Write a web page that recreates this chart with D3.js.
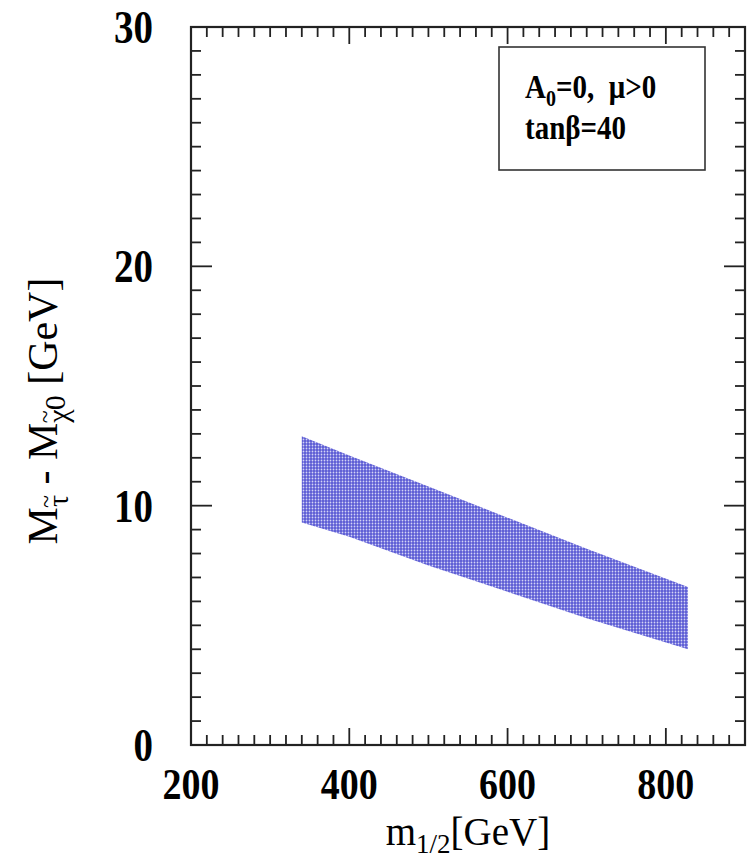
<!DOCTYPE html>
<html>
<head>
<meta charset="utf-8">
<script src="https://d3js.org/d3.v7.min.js"></script>
<style>
  body { margin: 0; background: #fff; }
  svg text { font-family: "Liberation Serif", "Times New Roman", serif; }
</style>
</head>
<body>
<div id="chart"></div>
<script>
// band data: m_1/2 [GeV] vs upper / lower mass difference [GeV]
const bandM = [340, 400, 500, 600, 700, 828]
const bandUpper = [12.9, 12.1, 10.8, 9.5, 8.2, 6.6]
const bandLower = [9.3, 8.7, 7.5, 6.4, 5.3, 4.0]

const xTicks = [200, 400, 600, 800]
const yTicks = [0, 10, 20, 30]

const MARGIN = { TOP: 27, BOTTOM: 114, LEFT: 191, RIGHT: 8 }
const W = 753, H = 859
const WIDTH = W - MARGIN.LEFT - MARGIN.RIGHT
const HEIGHT = H - MARGIN.TOP - MARGIN.BOTTOM

const svg = d3.select("#chart").append("svg")
    .attr("width", W)
    .attr("height", H)

// mesh texture for the band
const pat = svg.append("defs").append("pattern")
    .attr("id", "mesh")
    .attr("patternUnits", "userSpaceOnUse")
    .attr("width", 3).attr("height", 3)
pat.append("rect").attr("width", 3).attr("height", 3).attr("fill", "#5a5ad4")
pat.append("circle").attr("cx", 1.5).attr("cy", 1.5).attr("r", 0.9).attr("fill", "#d4d4f6")

const g = svg.append("g")
    .attr("transform", `translate(${MARGIN.LEFT},${MARGIN.TOP})`)

const x = d3.scaleLinear().domain([200, 900]).range([0, WIDTH])
const y = d3.scaleLinear().domain([0, 30]).range([HEIGHT, 0])

// band
const area = d3.area()
    .x((d, i) => x(bandM[i]))
    .y0((d, i) => y(bandLower[i]))
    .y1((d, i) => y(bandUpper[i]))
g.append("path")
    .datum(bandM)
    .attr("d", area)
    .attr("fill", "url(#mesh)")

// ticks (inward, on all four sides)
const xMinor = d3.range(200, 901, 20)
const yMinor = d3.range(0, 30.1, 1)
const tickCol = "#222"

function tickSet(vals, isMajor, scale, horiz) {
    vals.forEach(v => {
        const maj = isMajor(v)
        const len = maj ? (horiz ? 17 : 21) : 10
        if (horiz) {
            const px = scale(v)
            g.append("line").attr("x1", px).attr("x2", px).attr("y1", HEIGHT).attr("y2", HEIGHT - len)
                .attr("stroke", tickCol).attr("stroke-width", 1.8)
            g.append("line").attr("x1", px).attr("x2", px).attr("y1", 0).attr("y2", len)
                .attr("stroke", tickCol).attr("stroke-width", 1.8)
        } else {
            const py = scale(v)
            g.append("line").attr("x1", 0).attr("x2", len).attr("y1", py).attr("y2", py)
                .attr("stroke", tickCol).attr("stroke-width", 1.8)
            g.append("line").attr("x1", WIDTH).attr("x2", WIDTH - len).attr("y1", py).attr("y2", py)
                .attr("stroke", tickCol).attr("stroke-width", 1.8)
        }
    })
}
tickSet(xMinor, v => v % 200 === 0, x, true)
tickSet(yMinor, v => v % 10 === 0, y, false)

// frame
g.append("rect")
    .attr("width", WIDTH).attr("height", HEIGHT)
    .attr("fill", "none").attr("stroke", "#222").attr("stroke-width", 2.2)

// tick labels (the original font is a little taller than Liberation, so stretch a bit)
g.selectAll(".xl").data(xTicks).enter().append("text")
    .attr("transform", d => `translate(${x(d)},${HEIGHT + 54}) scale(1,1.15)`)
    .attr("text-anchor", "middle")
    .attr("font-weight", "bold")
    .attr("font-size", 38)
    .text(d => d)

g.selectAll(".yl").data(yTicks).enter().append("text")
    .attr("transform", d => `translate(-38,${y(d) + 16}) scale(1,1.2)`)
    .attr("text-anchor", "end")
    .attr("font-weight", "bold")
    .attr("font-size", 39)
    .text(d => d)

// x axis title
const xt = svg.append("text")
    .attr("x", MARGIN.LEFT + WIDTH / 2)
    .attr("y", 845)
    .attr("text-anchor", "middle")
    .attr("font-size", 39)
xt.append("tspan").text("m")
xt.append("tspan").attr("font-size", 27).attr("dy", 8).text("1/2")
xt.append("tspan").attr("dy", -8).text("[GeV]")

// y axis title, tildes placed by hand over the subscripts
const yt = svg.append("text")
    .attr("transform", `translate(57,${MARGIN.TOP + 384}) rotate(-90)`)
    .attr("text-anchor", "middle")
    .attr("font-size", 42)
yt.append("tspan").text("M")
yt.append("tspan").attr("font-size", 30).attr("dy", 11).text("τ")
yt.append("tspan").attr("font-size", 24).attr("dx", -13).attr("dy", -14).text("~")
yt.append("tspan").attr("dy", 3).text(" - M")
yt.append("tspan").attr("font-size", 30).attr("dy", 11).text("χ")
yt.append("tspan").attr("font-size", 24).attr("dx", -14).attr("dy", -15).text("~")
yt.append("tspan").attr("font-size", 30).attr("dy", 12).text("0")
yt.append("tspan").attr("dy", -8).text(" [GeV]")

// info box
g.append("rect")
    .attr("x", 499 - MARGIN.LEFT).attr("y", 47 - MARGIN.TOP)
    .attr("width", 206).attr("height", 123)
    .attr("fill", "#fff").attr("stroke", "#333").attr("stroke-width", 1.6)
const l1 = svg.append("text")
    .attr("transform", "translate(525,98) scale(1,1.15)")
    .attr("font-weight", "bold").attr("font-size", 29)
l1.append("tspan").text("A")
l1.append("tspan").attr("font-size", 20).attr("dy", 7).text("0")
l1.append("tspan").attr("dy", -7).text("=0,\u00a0\u00a0μ>0")
svg.append("text")
    .attr("transform", "translate(525,139) scale(1,1.15)")
    .attr("font-weight", "bold").attr("font-size", 29)
    .text("tanβ=40")
</script>
</body>
</html>
